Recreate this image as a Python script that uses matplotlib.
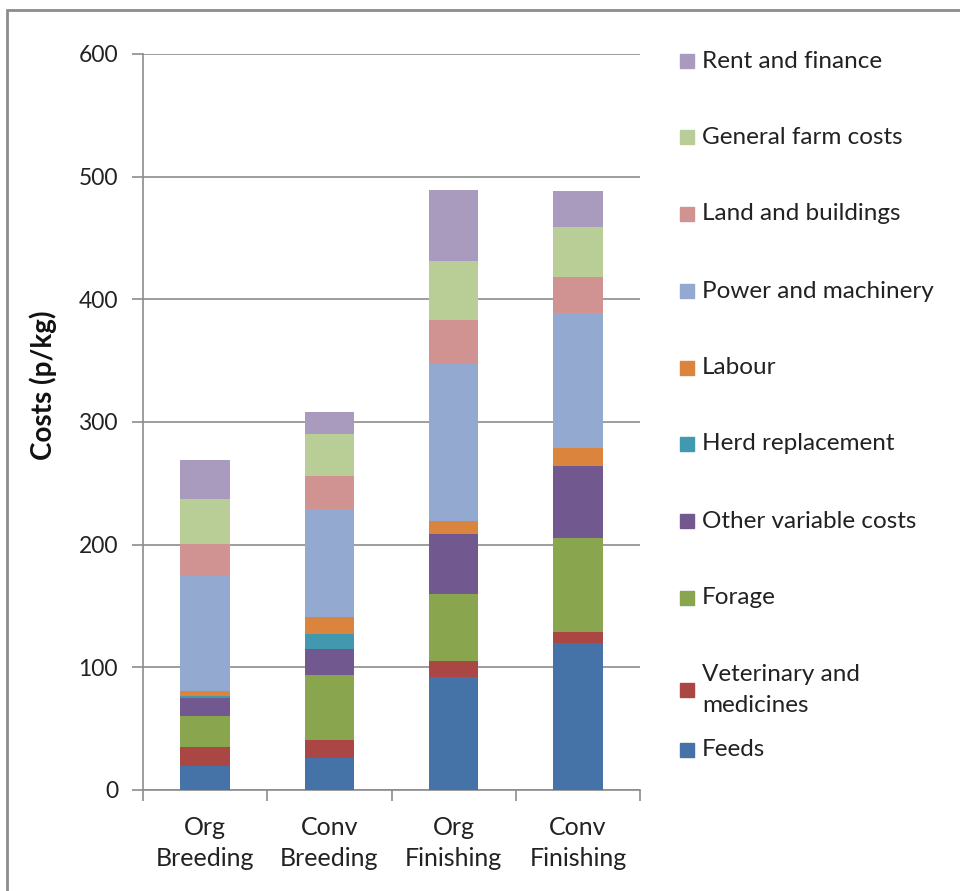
import numpy as np
import matplotlib
matplotlib.use("Agg")
import matplotlib.pyplot as plt
from matplotlib.patches import Rectangle

plt.rcParams['font.family'] = ['Lato', 'DejaVu Sans']

categories = ["Org\nBreeding", "Conv\nBreeding", "Org\nFinishing", "Conv\nFinishing"]

# cost components (p/kg), bottom to top
feeds = [19.5, 25.8, 92.5, 120.0]
veterinary = [15.7, 14.7, 12.8, 8.5]
forage = [25.3, 53.0, 54.1, 77.0]
other_variable = [14.2, 21.2, 49.2, 58.7]
herd_replacement = [2.1, 12.5, 0.0, 0.0]
labour = [4.1, 13.6, 10.6, 14.7]
power_machinery = [94.3, 88.0, 127.7, 110.0]
land_buildings = [25.0, 27.2, 36.5, 29.4]
general_farm = [36.7, 34.5, 47.6, 40.7]
rent_finance = [32.0, 17.4, 58.0, 29.1]

series = [
    ("Feeds", feeds, "#4572A7"),
    ("Veterinary and\nmedicines", veterinary, "#AA4643"),
    ("Forage", forage, "#89A54E"),
    ("Other variable costs", other_variable, "#71588F"),
    ("Herd replacement", herd_replacement, "#4198AF"),
    ("Labour", labour, "#DB843D"),
    ("Power and machinery", power_machinery, "#93A9CF"),
    ("Land and buildings", land_buildings, "#D19392"),
    ("General farm costs", general_farm, "#B9CD96"),
    ("Rent and finance", rent_finance, "#A99BBD"),
]

W, H = 960, 891
fig = plt.figure(figsize=(W / 100, H / 100), dpi=100)

# outer chart frame
fig.patches.append(Rectangle((7 / W, -0.05), 1.1, (H - 10) / H + 0.05,
                             transform=fig.transFigure, fill=False,
                             edgecolor="#8c8c8c", linewidth=2))

ax = fig.add_axes([143 / W, (H - 790) / H, 497 / W, 736 / H])

x = np.arange(len(categories))
bottom = np.zeros(len(categories))
for name, vals, col in series:
    ax.bar(x, vals, width=0.4, bottom=bottom, color=col, zorder=3)
    bottom += np.array(vals)

ax.set_xlim(-0.5, len(categories) - 0.5)
ax.set_ylim(0, 600)
ax.set_yticks(range(0, 601, 100))
ax.yaxis.grid(True, color="#8c8c8c", linewidth=1.2, zorder=0)
for s in ["top", "right"]:
    ax.spines[s].set_visible(False)
for s in ["left", "bottom"]:
    ax.spines[s].set_color("#8c8c8c")
    ax.spines[s].set_linewidth(1.2)

ax.set_xticks(x)
ax.set_xticklabels(categories, fontsize=18, color="#222222", linespacing=1.4)
ax.tick_params(axis="x", which="major", length=0, pad=19)
ax.set_xticks(np.arange(-0.5, len(categories)), minor=True)
ax.tick_params(axis="x", which="minor", length=8, color="#8c8c8c", width=1.2)
ax.tick_params(axis="y", length=8, color="#8c8c8c", width=1.2, labelsize=16.5,
               labelcolor="#222222", pad=10)

fig.text(43 / W, 1 - 385 / H, "Costs (p/kg)", rotation=90, ha="center",
         va="center", fontsize=20, fontweight="bold", color="#111111")

# legend, top to bottom
leg_y = [61, 137, 214, 291, 368, 444, 521, 598, 690, 750]
for (name, vals, col), ly in zip(series[::-1], leg_y):
    fig.patches.append(Rectangle((680 / W, 1 - (ly + 7) / H), 14 / W, 14 / H,
                                 transform=fig.transFigure, color=col))
    fig.text(702 / W, 1 - ly / H, name, ha="left", va="center", fontsize=17.5,
             color="#222222", linespacing=1.6)

fig.savefig("out.png", dpi=100)
